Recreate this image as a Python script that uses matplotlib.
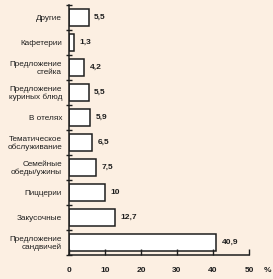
import matplotlib
matplotlib.use("Agg")
import matplotlib.pyplot as plt
from matplotlib.ticker import FixedLocator

categories = ["Предложение\nсандвичей", "Закусочные", "Пиццерии", "Семейные\nобеды/ужины",
              "Тематическое\nобслуживание", "В отелях", "Предложение\nкуриных блюд",
              "Предложение\nстейка", "Кафетерии", "Другие"]
values = [40.9, 12.7, 10, 7.5, 6.5, 5.9, 5.5, 4.2, 1.3, 5.5]
value_labels = ["40,9", "12,7", "10", "7,5", "6,5", "5,9", "5,5", "4,2", "1,3", "5,5"]
xticks = [0, 10, 20, 30, 40, 50]

bg = "#fcefe2"
ink = "#1e1e1e"
plt.rcParams['font.family'] = ['Liberation Sans', 'DejaVu Sans']

W, H = 273, 279
fig = plt.figure(figsize=(W / 100, H / 100), dpi=100, facecolor=bg)
ax = fig.add_axes([69 / W, 1 - 255 / H, 180 / W, 250 / H])
ax.set_facecolor(bg)

ypos = list(range(len(categories)))
ax.barh(ypos, values, height=0.68, facecolor="white", edgecolor=ink, linewidth=1.1)
for y, v, lab in zip(ypos, values, value_labels):
    ax.text(v + 1.5, y, lab, va="center", ha="left", fontsize=6, fontweight="bold", color=ink)

ax.set_xlim(0, 50)
ax.set_ylim(-0.5, 9.5)
for s in ["top", "right"]:
    ax.spines[s].set_visible(False)
for s in ["left", "bottom"]:
    ax.spines[s].set_color(ink)
    ax.spines[s].set_linewidth(1.1)

ax.set_xticks(xticks)
ax.set_xticklabels([str(t) for t in xticks], fontsize=6, fontweight="bold", color=ink)
ax.tick_params(axis="x", direction="in", length=4, width=1, colors=ink, pad=8.5)

ax.set_yticks(ypos)
ax.set_yticklabels(categories, fontsize=5.9, color=ink, linespacing=1.0)
ax.tick_params(axis="y", which="major", length=0, pad=5)
ax.yaxis.set_minor_locator(FixedLocator([i + 0.5 for i in range(-1, 10)]))
ax.tick_params(axis="y", which="minor", direction="inout", length=5, width=1, colors=ink)

fig.text(267 / W, 1 - 270 / H, "%", ha="center", va="center",
         fontsize=6, fontweight="bold", color=ink)

fig.savefig("out.png", dpi=100, facecolor=bg)
